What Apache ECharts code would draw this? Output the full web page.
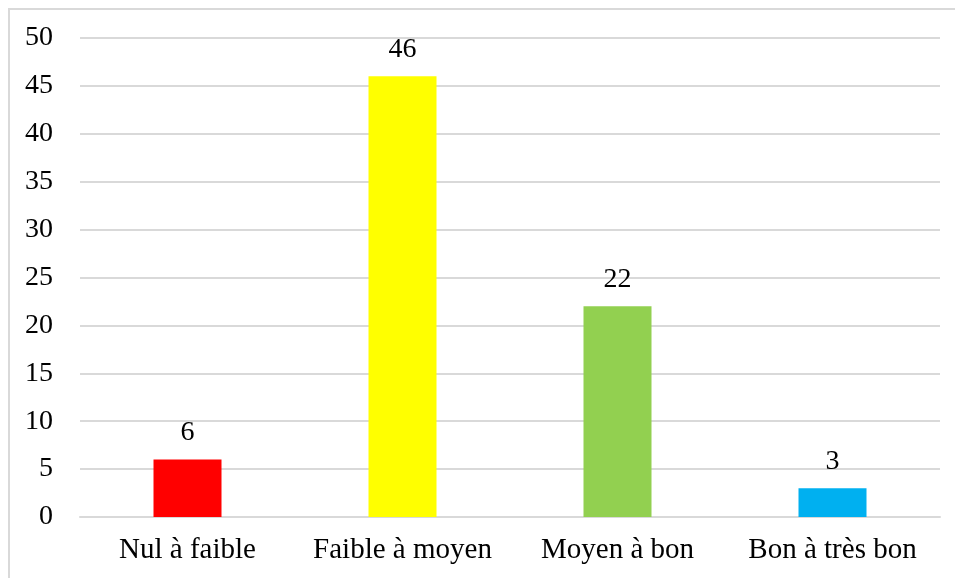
<!DOCTYPE html>
<html>
	<head>
		<meta charset="UTF-8">
		<title></title>
		<script src="https://cdn.jsdelivr.net/npm/echarts@6/dist/echarts.min.js"></script>
	</head>
	<style>
		body{
			margin: 0;
			background: #fff;
			overflow: hidden;
		}
		#frame{
			position: absolute;
			left: 8px;
			top: 8px;
			width: 980px;
			height: 600px;
			border: 2px solid #d9d9d9;
		}
		#main{
			position: absolute;
			left: 0;
			top: 0;
			width: 955px;
			height: 578px;
		}
	</style>
	<body>
		<div id="frame"></div>
		<div id="main"></div>
	</body>
	<script>
		var categories = ['Nul à faible', 'Faible à moyen', 'Moyen à bon', 'Bon à très bon'];
		var values = [6, 46, 22, 3];
		var colors = ['#ff0000', '#ffff00', '#92d050', '#00b0f0'];

		var chart = echarts.init(document.getElementById('main'));

		chart.setOption({
			animation: false,
			textStyle: {fontFamily: 'Liberation Serif'},
			grid: {
				left: 80,
				right: 15,
				top: 38,
				bottom: 61
			},
			xAxis: {
				type: 'category',
				data: categories,
				axisLine: {lineStyle: {color: '#d9d9d9', width: 2}},
				axisTick: {show: false},
				axisLabel: {
					interval: 0,
					color: '#000',
					fontSize: 29,
					margin: 19,
					fontFamily: 'Liberation Serif'
				}
			},
			yAxis: {
				type: 'value',
				min: 0,
				max: 50,
				interval: 5,
				axisLine: {show: false},
				axisTick: {show: false},
				axisLabel: {
					color: '#000',
					fontSize: 28,
					margin: 27,
					fontFamily: 'Liberation Serif'
				},
				splitLine: {lineStyle: {color: '#d9d9d9', width: 2}}
			},
			series: [{
				type: 'bar',
				barWidth: 68,
				data: values.map(function (v, i) {
					return {value: v, itemStyle: {color: colors[i]}};
				}),
				label: {
					show: true,
					position: 'top',
					distance: 13,
					color: '#000',
					fontSize: 28,
					fontFamily: 'Liberation Serif'
				}
			}]
		});
	</script>
</html>
